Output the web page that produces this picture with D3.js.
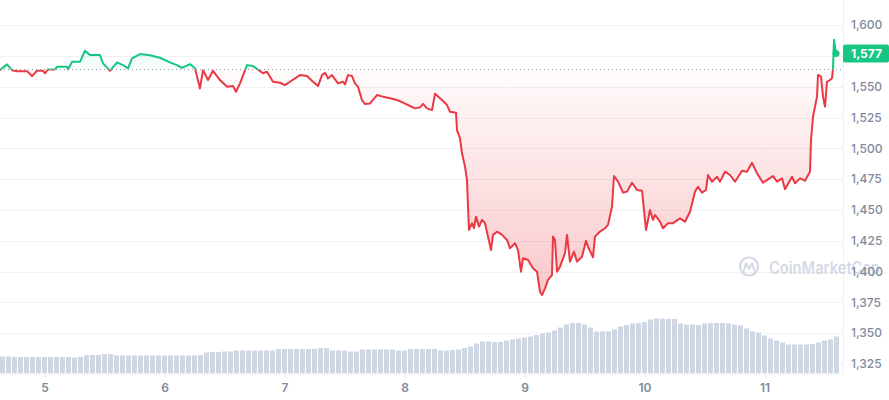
<!DOCTYPE html>
<html>
<head>
<meta charset="utf-8">
<script src="https://cdn.jsdelivr.net/npm/d3@7"></script>
<style>
  html, body { margin: 0; padding: 0; background: #ffffff; }
  svg { display: block; font-family: Inter, "Noto Sans", sans-serif; }
</style>
</head>
<body>
<script>
// ---- DATA ----
// hours since the first point (4th, 15:00)
const priceHours = [0,1.4,2.4,3.4,5.4,6.4,7.4,8.6,9,9.6,11,11.4,13.4,13.6,14.4,16,17,18,20,20.6,22,23.4,24.6,25.6,26.4,28,30,32,34,35.4,36.4,38,39,40,40.6,41.6,42.6,44,45.4,46.6,47.2,48,49.4,50.6,52.6,53.4,54.6,56,57,58,60,61.4,62.6,63.6,64.4,65,65.6,66.4,67.6,68.6,69,69.6,70.4,71,71.6,72.4,73,74,75.4,76.6,78,79.4,80.6,82,83,84,84.6,85.4,86.4,87,88.4,89.4,90,91.2,91.4,92,92.4,93,93.4,93.6,93.8,94.4,94.8,95.2,95.8,96.4,97,97.6,98.2,98.6,99.4,100.4,101.4,102,103,103.6,104.2,104.6,105.6,106.6,107.4,108,108.4,109,109.6,110.4,110.6,111,111.4,112,113,113.4,114,114.8,115.4,116.4,117.2,117.6,118.6,119,120,121,121.6,122.4,122.8,123.6,124.6,125.4,126.4,127.4,128.4,129.2,130,130.6,131,132,132.6,133.6,134.6,136,137,138,139,139.6,140.4,141.2,141.6,142.4,143.4,144,145,146,147,148.4,149.4,150.4,151.4,152.6,153.6,154.6,155.4,156.4,157,158.4,159,160,161,162,162.2,162.6,163.4,163.6,164.2,164.6,165,165.4,166,166.4,166.6,166.8,167.2];
const prices = [1563.5,1568.2,1563.5,1562.7,1562.7,1558.7,1563,1563,1561,1564.1,1564.1,1566.2,1566.2,1564.1,1570.3,1570.3,1579.3,1575.8,1575.8,1569,1563,1569.8,1567.6,1565,1573.1,1576.6,1575.6,1573.6,1569.8,1567.6,1565.4,1568.4,1565,1548.7,1563.5,1555.5,1563,1555.5,1550,1550.6,1546,1552.8,1567.6,1566.8,1561,1562.2,1554.1,1553.3,1551.4,1554.1,1559.5,1558.7,1554.1,1550.6,1559.5,1561.4,1556.8,1559.5,1552.8,1554.1,1552,1559.5,1558.7,1552.8,1550,1539.2,1536,1536.5,1543.3,1542,1540.7,1539.3,1537.1,1534.4,1532.5,1533.3,1536.1,1532.5,1531.1,1544.3,1539.3,1535.2,1529.7,1529,1514.9,1508.2,1496,1485.2,1474.3,1452.7,1433.8,1439.3,1435.2,1444.6,1436.5,1442,1439.3,1428.4,1417.5,1429.8,1432.4,1429.8,1425.7,1418.9,1423,1417.5,1399.9,1410.8,1409.4,1402.7,1399.9,1383.6,1381,1386.4,1393.2,1397.2,1428.4,1425.7,1399.9,1404,1414.9,1429.8,1408.1,1416.2,1408.1,1412.1,1425,1420.2,1411.6,1428.4,1432.5,1435.2,1437.9,1452.7,1477.6,1473,1464.2,1464.9,1472.1,1466.3,1465.7,1433.8,1450,1441.9,1446,1440.5,1435.2,1439.3,1439.3,1443.2,1440.5,1448.6,1464.9,1468.9,1464,1466.3,1478.4,1473,1477,1473,1481.1,1478.4,1473,1481.9,1481.1,1488.3,1479.8,1472.1,1474.9,1477.5,1473,1475.7,1466.8,1477,1471.7,1475.7,1473.8,1481.1,1506.7,1525.7,1542,1559.6,1558.3,1542,1533.9,1554.1,1555.5,1556.9,1565,1588.1,1577];
const baselinePrice = 1564;
const currentPriceLabel = "1,577";
// volume bars, one every 1.2 hours (relative units)
const volumes = [17,17,16.5,16.5,16.5,16.5,16.5,16.5,16.5,16.5,16.5,16.5,16,16.5,18.5,18.5,18.5,19.5,19.5,18,18,18,18,18,18,18,18,18,18,18,18,18,18,18.5,21,21.5,21.5,22,22,23,23,23,23,23,23,23,24.5,24.5,24.5,24.5,24.5,24.5,24.5,25.5,25.5,23,23,23,22,22,24,24,24,24,24,24,23,23,24.5,24.5,24.5,24.5,24.5,23,23,23.5,24,25.5,27,30,32,32,31.5,31.5,33,34,35,36,37,38.5,40,41,43,46,49,50.5,50.5,49,46,42,42,42,44,47,48.5,50,50.5,51.5,54,55,55,54.5,54.5,50,49,49,48.5,50,50.5,50.5,50.5,50,49,48,45,42,41,38,35,33,31,29,29,29,29,29.5,31,33,34,37];
const volumeStepHours = 1.2;
// 1,575 is hidden behind the current-price tag in the reference
const yTickValues = [1325,1350,1375,1400,1425,1450,1475,1500,1525,1550,1600];
const yGridValues = [1325,1350,1375,1400,1425,1450,1475,1500,1525,1550,1575,1600];

// ---- CHART ----
const W = 889, H = 400;
const plotRight = 843, plotBottom = 373.5;
const t0 = Date.UTC(2023, 0, 4, 15);
const HOUR = 3600 * 1000;
const data = priceHours.map((h, i) => ({ t: new Date(t0 + h * HOUR), p: prices[i] }));
const lastT = data[data.length - 1].t;

const x = d3.scaleUtc().domain([new Date(t0), lastT]).range([0, 836]);
const y = d3.scaleLinear().domain([1325, 1600]).range([364, 25.2]);
const yv = d3.scaleLinear().domain([0, 55]).range([plotBottom, plotBottom - 55]);

const RED = "#ea3943", GREEN = "#16c784", GREY = "#808a9d";

const svg = d3.select("body").append("svg").attr("width", W).attr("height", H);
const defs = svg.append("defs");

const yBase = y(baselinePrice);

const rg = defs.append("linearGradient").attr("id", "redGrad")
  .attr("gradientUnits", "userSpaceOnUse").attr("x1", 0).attr("x2", 0)
  .attr("y1", yBase).attr("y2", y(1380));
rg.append("stop").attr("offset", 0).attr("stop-color", RED).attr("stop-opacity", 0.02);
rg.append("stop").attr("offset", 1).attr("stop-color", RED).attr("stop-opacity", 0.28);

const gg = defs.append("linearGradient").attr("id", "greenGrad")
  .attr("gradientUnits", "userSpaceOnUse").attr("x1", 0).attr("x2", 0)
  .attr("y1", yBase).attr("y2", y(1590));
gg.append("stop").attr("offset", 0).attr("stop-color", GREEN).attr("stop-opacity", 0.02);
gg.append("stop").attr("offset", 1).attr("stop-color", GREEN).attr("stop-opacity", 0.14);

defs.append("clipPath").attr("id", "clipAbove").append("rect")
  .attr("x", -5).attr("y", 0).attr("width", W).attr("height", yBase);
defs.append("clipPath").attr("id", "clipBelow").append("rect")
  .attr("x", -5).attr("y", yBase).attr("width", W).attr("height", H - yBase);

// grid
svg.append("g").selectAll("line").data(yGridValues).join("line")
  .attr("x1", 0).attr("x2", plotRight)
  .attr("y1", d => Math.round(y(d)) + 0.5).attr("y2", d => Math.round(y(d)) + 0.5)
  .attr("stroke", "#eff2f5").attr("stroke-width", 1);

// volume bars
svg.append("g").selectAll("rect").data(volumes).join("rect")
  .attr("x", (d, i) => x(new Date(t0 + i * volumeStepHours * HOUR)))
  .attr("width", 5)
  .attr("y", d => yv(d))
  .attr("height", d => plotBottom - yv(d))
  .attr("fill", "#cfd6e4");

// frame lines
svg.append("line").attr("x1", 0).attr("x2", plotRight + 0.5).attr("y1", plotBottom + 0.5).attr("y2", plotBottom + 0.5)
  .attr("stroke", "#eff2f5");
svg.append("line").attr("x1", plotRight + 0.5).attr("x2", plotRight + 0.5).attr("y1", 0).attr("y2", plotBottom + 1)
  .attr("stroke", "#eff2f5");

// x ticks
const days = d3.utcDay.range(new Date(t0), lastT);
svg.append("g").selectAll("line").data(days).join("line")
  .attr("x1", d => Math.round(x(d)) + 0.5).attr("x2", d => Math.round(x(d)) + 0.5)
  .attr("y1", plotBottom + 1).attr("y2", plotBottom + 4)
  .attr("stroke", "#e0e4ea");
svg.append("g").selectAll("text").data(days).join("text")
  .attr("x", d => x(d)).attr("y", 392)
  .attr("text-anchor", "middle")
  .attr("font-size", 12).attr("font-weight", 600).attr("fill", GREY)
  .text(d => d3.utcFormat("%-d")(d));

// watermark
const wm = svg.append("g").attr("opacity", 0.9);
wm.append("circle").attr("cx", 749).attr("cy", 266.5).attr("r", 9)
  .attr("fill", "none").attr("stroke", "#cfd6e4").attr("stroke-width", 2.2);
wm.append("path").attr("d", "M743.5,271 L746,263.5 L749,269 L752,263.5 L754.5,270.5")
  .attr("fill", "none").attr("stroke", "#cfd6e4").attr("stroke-width", 2).attr("stroke-linejoin", "round").attr("stroke-linecap", "round");
wm.append("text").attr("x", 769).attr("y", 273.5)
  .attr("font-size", 17).attr("font-weight", 600).attr("fill", "#cfd6e4")
  .attr("textLength", 111).attr("lengthAdjust", "spacingAndGlyphs")
  .text("CoinMarketCap");

// areas
const area = d3.area().x(d => x(d.t)).y0(yBase).y1(d => y(d.p)).curve(d3.curveLinear);
svg.append("path").datum(data).attr("d", area).attr("fill", "url(#redGrad)").attr("clip-path", "url(#clipBelow)");
svg.append("path").datum(data).attr("d", area).attr("fill", "url(#greenGrad)").attr("clip-path", "url(#clipAbove)");

// baseline dotted
svg.append("line").attr("x1", 0).attr("x2", plotRight).attr("y1", yBase).attr("y2", yBase)
  .attr("stroke", GREY).attr("stroke-width", 1).attr("stroke-dasharray", "1,3").attr("opacity", 0.9);

// lines
const line = d3.line().x(d => x(d.t)).y(d => y(d.p));
svg.append("path").datum(data).attr("d", line).attr("fill", "none").attr("stroke", RED)
  .attr("stroke-width", 2).attr("stroke-linejoin", "round").attr("clip-path", "url(#clipBelow)");
svg.append("path").datum(data).attr("d", line).attr("fill", "none").attr("stroke", GREEN)
  .attr("stroke-width", 2).attr("stroke-linejoin", "round").attr("clip-path", "url(#clipAbove)");

// end dot
const last = data[data.length - 1];
svg.append("circle").attr("cx", x(last.t)).attr("cy", y(last.p)).attr("r", 3.5).attr("fill", GREEN);

// y labels
svg.append("g").selectAll("text").data(yTickValues).join("text")
  .attr("x", 851).attr("y", d => y(d)).attr("dy", "0.35em")
  .attr("font-size", 12).attr("font-weight", 500).attr("fill", GREY)
  .text(d => d3.format(",")(d));

// current price tag
const tagY = y(last.p);
svg.append("rect").attr("x", plotRight).attr("y", tagY - 9).attr("width", W - plotRight).attr("height", 18)
  .attr("rx", 2).attr("fill", GREEN);
svg.append("text").attr("x", 851).attr("y", tagY).attr("dy", "0.35em")
  .attr("font-size", 12).attr("font-weight", 700).attr("fill", "#ffffff")
  .text(currentPriceLabel);
</script>
</body>
</html>
